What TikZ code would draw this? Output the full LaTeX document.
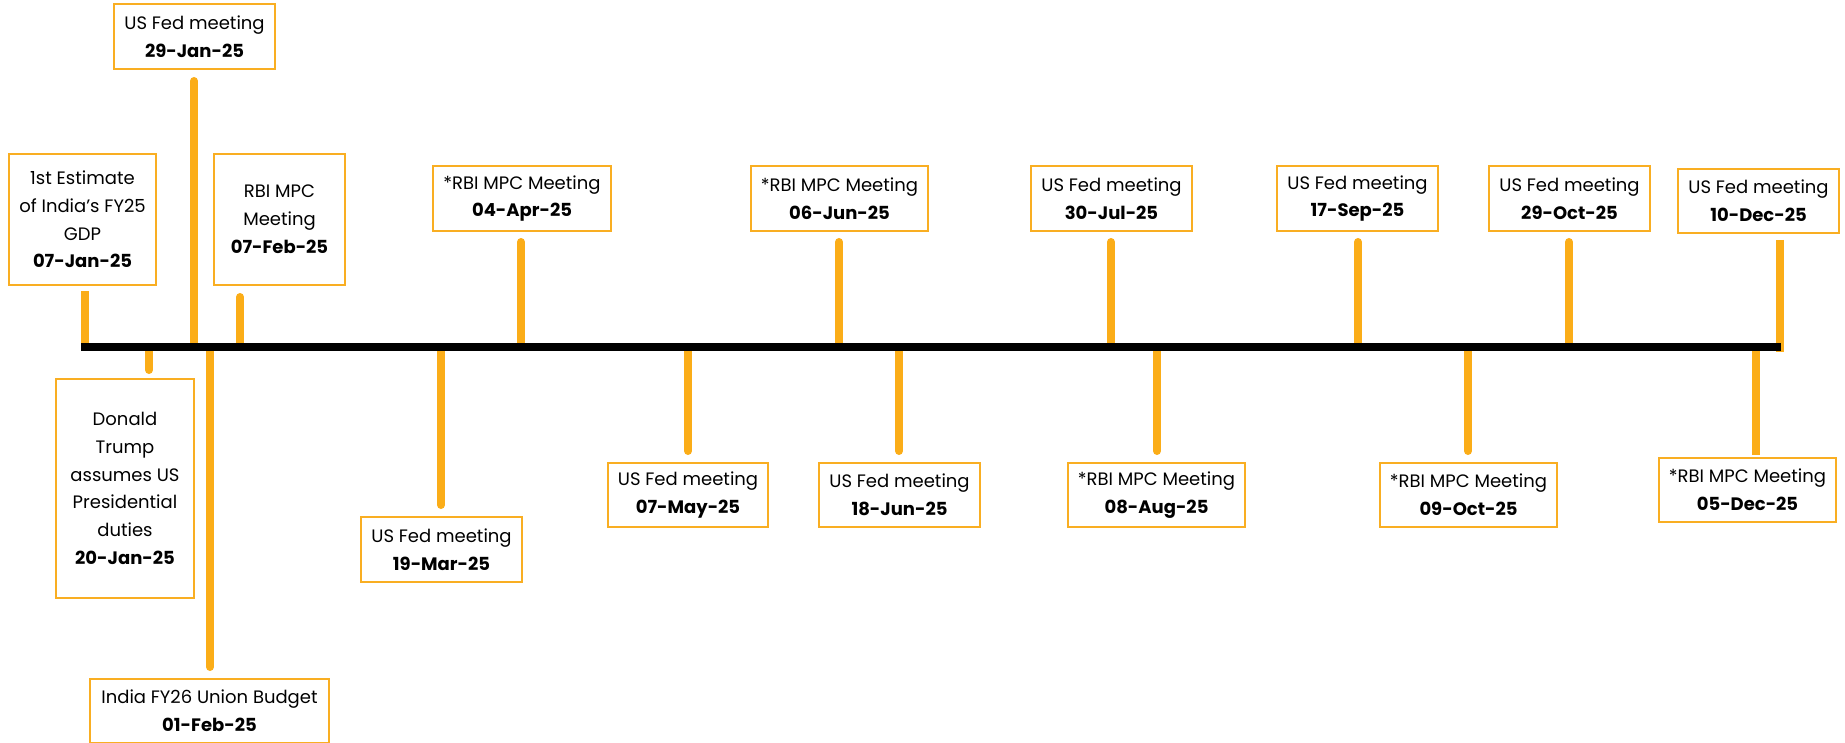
\documentclass[tikz,border=0pt]{standalone}
\usepackage{fontspec}
\setmainfont{Poppins}
\definecolor{stemc}{HTML}{FBAD18}
\definecolor{boxc}{HTML}{F9AE22}
\begin{document}
\begin{tikzpicture}[x=1pt,y=-1pt,
  ev/.style={draw=boxc, line width=2pt, fill=white, inner sep=0pt, align=center,
    font=\fontsize{18}{27.8}\selectfont, text=black},
  stem/.style={draw=stemc, line width=8pt, line cap=round},
  tline/.style={draw=black, line width=8pt}]
\useasboundingbox (0,0) rectangle (1845,743);
% boxes: center, width, height
\node[ev, minimum width=147pt, minimum height=131pt] (e1) at (82.5,219.5) {1st Estimate\\of India\char"27 s FY25\\GDP\\\textbf{07-Jan-25}};
\node[ev, minimum width=138pt, minimum height=219pt] (e2) at (125,488.5) {Donald\\Trump\\assumes US\\Presidential\\duties\\\textbf{20-Jan-25}};
\node[ev, minimum width=161pt, minimum height=65pt] (e3) at (194.5,36.5) {US Fed meeting\\\textbf{29-Jan-25}};
\node[ev, minimum width=239pt, minimum height=64pt] (e4) at (209.5,711) {India FY26 Union Budget\\\textbf{01-Feb-25}};
\node[ev, minimum width=131pt, minimum height=131pt] (e5) at (279.5,219.5) {RBI MPC\\Meeting\\\textbf{07-Feb-25}};
\node[ev, minimum width=161pt, minimum height=65pt] (e6) at (441.5,549.5) {US Fed meeting\\\textbf{19-Mar-25}};
\node[ev, minimum width=178pt, minimum height=65pt] (e7) at (522,198.5) {*RBI MPC Meeting\\\textbf{04-Apr-25}};
\node[ev, minimum width=160pt, minimum height=64pt] (e8) at (688,495) {US Fed meeting\\\textbf{07-May-25}};
\node[ev, minimum width=177pt, minimum height=65pt] (e9) at (839.5,198.5) {*RBI MPC Meeting\\\textbf{06-Jun-25}};
\node[ev, minimum width=161pt, minimum height=64pt] (e10) at (899.5,495) {US Fed meeting\\\textbf{18-Jun-25}};
\node[ev, minimum width=161pt, minimum height=65pt] (e11) at (1111.5,198.5) {US Fed meeting\\\textbf{30-Jul-25}};
\node[ev, minimum width=177pt, minimum height=64pt] (e12) at (1156.5,495) {*RBI MPC Meeting\\\textbf{08-Aug-25}};
\node[ev, minimum width=161pt, minimum height=65pt] (e13) at (1357.5,198.5) {US Fed meeting\\\textbf{17-Sep-25}};
\node[ev, minimum width=177pt, minimum height=64pt] (e14) at (1468.5,495) {*RBI MPC Meeting\\\textbf{09-Oct-25}};
\node[ev, minimum width=161pt, minimum height=65pt] (e15) at (1569.5,198.5) {US Fed meeting\\\textbf{29-Oct-25}};
\node[ev, minimum width=161pt, minimum height=64pt] (e16) at (1758.5,201) {US Fed meeting\\\textbf{10-Dec-25}};
\node[ev, minimum width=177pt, minimum height=64pt] (e17) at (1747.5,490) {*RBI MPC Meeting\\\textbf{05-Dec-25}};
% points on the timeline
\coordinate (tl0) at (81,347);
\coordinate (tl1) at (1781,347);
\coordinate (d1) at (85,347);
\coordinate (d2) at (149,347);
\coordinate (d3) at (194,347);
\coordinate (d4) at (210,347);
\coordinate (d5) at (240,347);
\coordinate (d6) at (441,347);
\coordinate (d7) at (521,347);
\coordinate (d8) at (688,347);
\coordinate (d9) at (839,347);
\coordinate (d10) at (899,347);
\coordinate (d11) at (1111,347);
\coordinate (d12) at (1157,347);
\coordinate (d13) at (1358,347);
\coordinate (d14) at (1468,347);
\coordinate (d15) at (1569,347);
\coordinate (d16) at (1780,347);
\coordinate (d17) at (1756,347);
% stems above the line
\draw[stem, line cap=butt] ([yshift=-5pt]e1.south -| d1) -- (d1);
\draw[stem] ([yshift=-11pt]e3.south -| d3) -- (d3);
\draw[stem] ([yshift=-11pt]e5.south -| d5) -- (d5);
\draw[stem] ([yshift=-10pt]e7.south -| d7) -- (d7);
\draw[stem] ([yshift=-10pt]e9.south -| d9) -- (d9);
\draw[stem] ([yshift=-10pt]e11.south -| d11) -- (d11);
\draw[stem] ([yshift=-10pt]e13.south -| d13) -- (d13);
\draw[stem] ([yshift=-10pt]e15.south -| d15) -- (d15);
\draw[stem, line cap=butt] ([yshift=-6pt]e16.south -| d16) -- ([yshift=-5pt]d16);
% stems below the line
\draw[stem] ([yshift=8pt]e2.north -| d2) -- (d2);
\draw[stem] ([yshift=11pt]e4.north -| d4) -- (d4);
\draw[stem] ([yshift=11pt]e6.north -| d6) -- (d6);
\draw[stem] ([yshift=11pt]e8.north -| d8) -- (d8);
\draw[stem] ([yshift=11pt]e10.north -| d10) -- (d10);
\draw[stem] ([yshift=11pt]e12.north -| d12) -- (d12);
\draw[stem] ([yshift=11pt]e14.north -| d14) -- (d14);
\draw[stem, line cap=butt] ([yshift=2pt]e17.north -| d17) -- (d17);
% timeline
\draw[tline] (tl0) -- (tl1);
\end{tikzpicture}
\end{document}
